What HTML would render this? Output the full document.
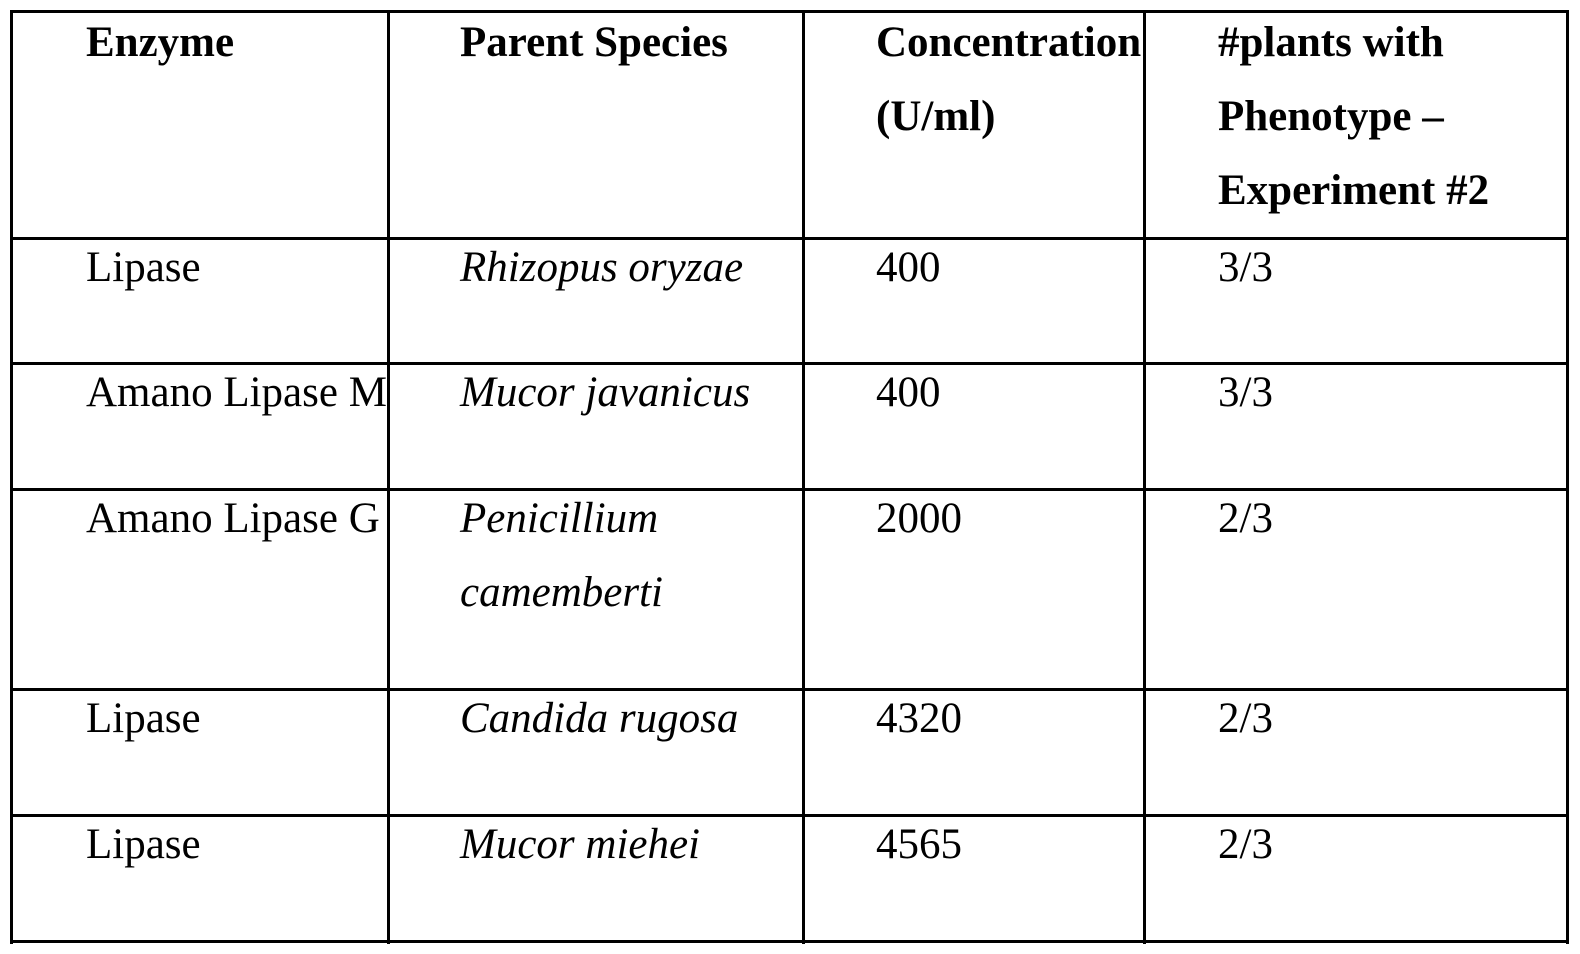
<!DOCTYPE html><html><head><style>
body{margin:0;width:1580px;height:954px;background:#fff;position:relative;font-family:"Liberation Serif",serif;font-size:43px;color:#000;overflow:hidden}
.h,.v{position:absolute;background:#000}
.h{height:3px;left:10px;width:1559px}
.v{width:3px;top:10px;height:934px}
.t{position:absolute;line-height:74px;white-space:nowrap}
b{font-weight:bold}
</style></head><body>
<div class="h" style="top:10px"></div>
<div class="h" style="top:237px"></div>
<div class="h" style="top:362px"></div>
<div class="h" style="top:488px"></div>
<div class="h" style="top:688px"></div>
<div class="h" style="top:814px"></div>
<div class="h" style="top:940px"></div>
<div class="v" style="left:10px"></div>
<div class="v" style="left:387px"></div>
<div class="v" style="left:802px"></div>
<div class="v" style="left:1143px"></div>
<div class="v" style="left:1566px"></div>
<div class="t" style="left:86px;top:6px"><b>Enzyme</b></div>
<div class="t" style="left:460px;top:6px"><b>Parent Species</b></div>
<div class="t" style="left:876px;top:6px"><b>Concentration<br>(U/ml)</b></div>
<div class="t" style="left:1218px;top:6px"><b>#plants with<br>Phenotype –<br>Experiment #2</b></div>
<div class="t" style="left:86px;top:231px">Lipase</div>
<div class="t" style="left:460px;top:231px"><i>Rhizopus oryzae</i></div>
<div class="t" style="left:876px;top:231px">400</div>
<div class="t" style="left:1218px;top:231px">3/3</div>
<div class="t" style="left:86px;top:356px">Amano Lipase M</div>
<div class="t" style="left:460px;top:356px"><i>Mucor javanicus</i></div>
<div class="t" style="left:876px;top:356px">400</div>
<div class="t" style="left:1218px;top:356px">3/3</div>
<div class="t" style="left:86px;top:482px">Amano Lipase G</div>
<div class="t" style="left:460px;top:482px"><i>Penicillium<br>camemberti</i></div>
<div class="t" style="left:876px;top:482px">2000</div>
<div class="t" style="left:1218px;top:482px">2/3</div>
<div class="t" style="left:86px;top:682px">Lipase</div>
<div class="t" style="left:460px;top:682px"><i>Candida rugosa</i></div>
<div class="t" style="left:876px;top:682px">4320</div>
<div class="t" style="left:1218px;top:682px">2/3</div>
<div class="t" style="left:86px;top:808px">Lipase</div>
<div class="t" style="left:460px;top:808px"><i>Mucor miehei</i></div>
<div class="t" style="left:876px;top:808px">4565</div>
<div class="t" style="left:1218px;top:808px">2/3</div>
</body></html>
